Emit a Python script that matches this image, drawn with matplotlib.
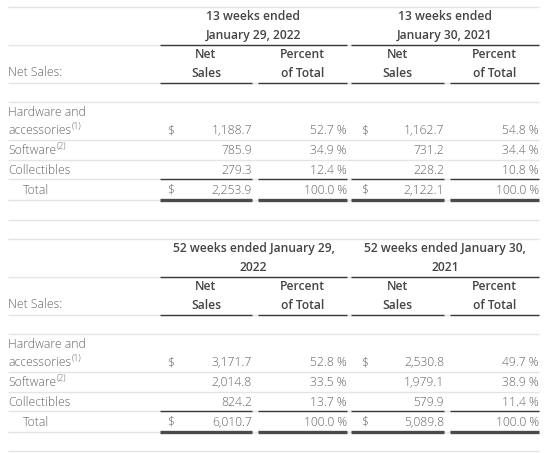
import matplotlib
matplotlib.use("Agg")
import matplotlib.pyplot as plt

# row labels and footnote markers
categories = ["Hardware and\naccessories", "Software", "Collectibles"]
footnotes = ["(1)", "(2)", ""]

# 13 weeks (quarter) block
q_headers = ["13 weeks ended\nJanuary 29, 2022", "13 weeks ended\nJanuary 30, 2021"]
q_sales_2022 = [1188.7, 785.9, 279.3]
q_pct_2022 = [52.7, 34.9, 12.4]
q_sales_2021 = [1162.7, 731.2, 228.2]
q_pct_2021 = [54.8, 34.4, 10.8]
q_totals = [2253.9, 100.0, 2122.1, 100.0]

# 52 weeks (fiscal year) block
fy_headers = ["52 weeks ended January 29,\n2022", "52 weeks ended January 30,\n2021"]
fy_sales_2022 = [3171.7, 2014.8, 824.2]
fy_pct_2022 = [52.8, 33.5, 13.7]
fy_sales_2021 = [2530.8, 1979.1, 579.9]
fy_pct_2021 = [49.7, 38.9, 11.4]
fy_totals = [6010.7, 100.0, 5089.8, 100.0]

TXT = "#636363"
HDR = "#454545"
LIGHT = "#e4e4e4"
DARK = "#3a3a3a"
FONT = "Open Sans"
FS = 8.7

fig = plt.figure(figsize=(5.54, 4.53), dpi=100)
ax = fig.add_axes([0, 0, 1, 1])
ax.set_xlim(0, 554)
ax.set_ylim(453, 0)
ax.axis("off")

# column spans (pixels)
cols = [(160, 252), (258, 347), (351, 444), (450, 539)]
groups = [(160, 347), (351, 539)]
LEFT, RIGHT = 8, 539


def body(x, y, s, ha="left", **kw):
    return ax.text(x, y, s, ha=ha, va="center", fontsize=FS, color=TXT,
                   family=FONT, fontweight="light", **kw)


def head(x, y, s):
    ax.text(x, y, s, ha="center", va="center", fontsize=FS, color=HDR,
            family=FONT, fontweight="semibold", linespacing=1.55)


def fmt(v):
    return f"{v:,.1f}"


def draw_block(y0, headers, s22, p22, s21, p21, totals, last_line):
    ax.hlines(y0 + 7, LEFT, RIGHT, color=LIGHT, lw=1)
    for (a, b), h in zip(groups, headers):
        head((a + b) / 2, y0 + 26, h)
    ax.hlines(y0 + 45, LEFT, RIGHT, color=LIGHT, lw=1)
    for a, b in groups:
        ax.hlines(y0 + 45, a, b, color=DARK, lw=1)
    for (a, b), h in zip(cols, ["Net\nSales", "Percent\nof Total"] * 2):
        head((a + b) / 2, y0 + 64, h)
    body(LEFT, y0 + 73, "Net Sales:")
    ax.hlines(y0 + 83, LEFT, RIGHT, color=LIGHT, lw=1)
    for a, b in cols:
        ax.hlines(y0 + 83, a, b, color=DARK, lw=1)
    ax.hlines(y0 + 102, LEFT, RIGHT, color=LIGHT, lw=1)

    rows_y = [y0 + 131, y0 + 151, y0 + 170]
    seps = [y0 + 140, y0 + 160]
    for i, (cat, fn, y) in enumerate(zip(categories, footnotes, rows_y)):
        lines = cat.split("\n")
        if len(lines) > 1:
            body(LEFT, y - 18, lines[0])
        t = body(LEFT, y, lines[-1])
        if fn:
            fig.canvas.draw()
            bb = t.get_window_extent()
            x1 = bb.x1 * 554 / fig.bbox.width
            ax.text(x1 + 0.5, y - 4.5, fn, ha="left", va="center", fontsize=FS * 0.72,
                    color=TXT, family=FONT, fontweight="light")
        if i == 0:
            body(167, y, "$")
            body(361, y, "$")
        body(cols[0][1], y, fmt(s22[i]), ha="right")
        body(cols[1][1], y, f"{p22[i]:.1f} %", ha="right")
        body(cols[2][1], y, fmt(s21[i]), ha="right")
        body(cols[3][1], y, f"{p21[i]:.1f} %", ha="right")
    for s in seps:
        ax.hlines(s, LEFT, RIGHT, color=LIGHT, lw=1)
    ax.hlines(y0 + 179, LEFT, RIGHT, color=LIGHT, lw=1)
    for a, b in cols:
        ax.hlines(y0 + 179, a, b, color=DARK, lw=1)

    ty = y0 + 190
    body(23, ty, "Total")
    body(167, ty, "$")
    body(361, ty, "$")
    body(cols[0][1], ty, fmt(totals[0]), ha="right")
    body(cols[1][1], ty, f"{totals[1]:.1f} %", ha="right")
    body(cols[2][1], ty, fmt(totals[2]), ha="right")
    body(cols[3][1], ty, f"{totals[3]:.1f} %", ha="right")
    ax.hlines(y0 + 200, LEFT, RIGHT, color=LIGHT, lw=1)
    for a, b in cols:
        ax.hlines(y0 + 199.5, a, b, color="#4a4a4a", lw=2.4)
    ax.hlines(y0 + last_line, LEFT, RIGHT, color=LIGHT, lw=1)


draw_block(0, q_headers, q_sales_2022, q_pct_2022, q_sales_2021, q_pct_2021, q_totals, 220)
draw_block(232, fy_headers, fy_sales_2022, fy_pct_2022, fy_sales_2021, fy_pct_2021, fy_totals, 219)

fig.savefig("out.png", dpi=100, facecolor="white")
